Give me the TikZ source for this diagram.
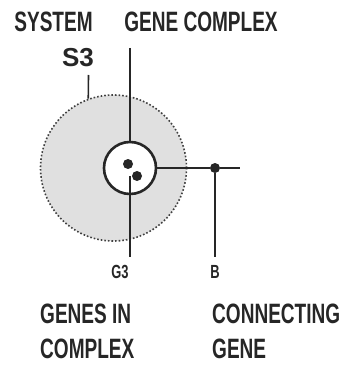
\documentclass[tikz,border=0pt]{standalone}
\usepackage{fontspec}
\setmainfont{Liberation Sans}[FakeStretch=0.68]
\newfontfamily\widef{Liberation Sans}
\begin{document}
\begin{tikzpicture}[x=1pt,y=-1pt,
  lbl/.style={font=\bfseries\fontsize{28}{28}\selectfont, inner sep=0, text=black!85},
  boldlbl/.style={font=\widef\bfseries\fontsize{26}{26}\selectfont, inner sep=0, text=black!85},
  smalllbl/.style={font=\bfseries\fontsize{19}{19}\selectfont, inner sep=0, text=black!85},
  conn/.style={line width=1.6pt, draw=black!85},
  dotn/.style={circle, fill=black!85, minimum size=10pt, inner sep=0}]
\useasboundingbox (0,0) rectangle (342,366);
% system circle
\node[circle, draw=black!75, dotted, line width=1.6pt, fill=black!12, minimum size=146pt, inner sep=0] (sys) at (113.5,168) {};
% gene complex circle
\node[circle, draw=black!85, line width=2.6pt, fill=white, minimum size=52pt, inner sep=0] (cx) at (130,168) {};
\node[dotn] (g1) at (128,164) {};
\node[dotn] (g2) at (137,176) {};
\node[dotn] (b) at (215,168) {};
% labels
\node[lbl] (system) at (53.5,22) {SYSTEM};
\node[lbl] (gc) at (201,22) {GENE COMPLEX};
\node[boldlbl] (s3) at (78,58) {S3};
\node[smalllbl] (g3) at (120,272) {G3};
\node[smalllbl] (bl) at (215,272) {B};
\node[lbl, anchor=west] (gi) at (40,314) {GENES IN};
\node[lbl, anchor=west] (cp) at (40,349) {COMPLEX};
\node[lbl, anchor=west] (cn) at (212,314) {CONNECTING};
\node[lbl, anchor=west] (gn) at (212,349) {GENE};
% connector ends
\coordinate (st) at (88.5,75);
\coordinate (gct) at (130,48);
\coordinate (g3t) at (130,257);
\coordinate (hend) at (240,168);
\coordinate (bend) at (215,257);
% connectors
\draw[conn] (st) -- (sys.110);
\draw[conn] (gct) -- (cx.north);
\draw[conn] (cx.center |- g2.center) -- (g3t);
\draw[conn] (cx.east) -- (b) -- (hend);
\draw[conn] (b) -- (bend);
\end{tikzpicture}
\end{document}
